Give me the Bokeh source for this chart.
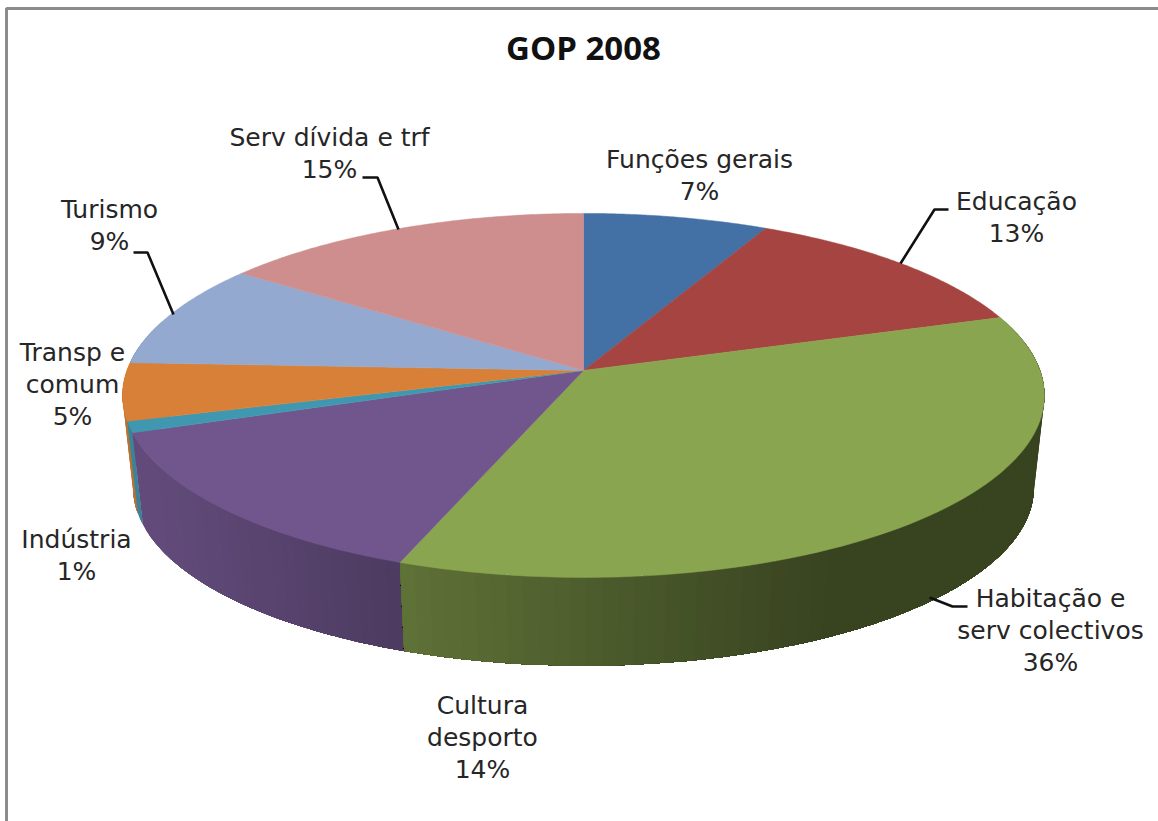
import numpy as np
from bokeh.plotting import figure
from bokeh.embed import file_html
from bokeh.resources import INLINE
from bokeh.models import Range1d
from bokeh.core.properties import value

title = "GOP 2008"
categories = ["Funções gerais", "Educação", "Habitação e serv colectivos", "Cultura desporto",
              "Indústria", "Transp e comum", "Turismo", "Serv dívida e trf"]
shares = [7.4, 12.6, 35.7, 13.9, 1.0, 5.1, 9.3, 15.0]
percent_labels = ["7%", "13%", "36%", "14%", "1%", "5%", "9%", "15%"]
top_colors = ["#4371a6", "#a54441", "#8aa550", "#70568c", "#4098b0", "#d98038", "#93a9cf", "#ce8e8e"]

# label layout: lines, centre x, first-line centre y
label_lines = [["Funções gerais", "7%"], ["Educação", "13%"], ["Habitação e", "serv colectivos", "36%"],
               ["Cultura", "desporto", "14%"], ["Indústria", "1%"], ["Transp e", "comum", "5%"],
               ["Turismo", "9%"], ["Serv dívida e trf", "15%"]]
label_x = [699, 1016, 1050, 482, 76, 72, 109, 329]
label_y = [159, 201, 598, 705, 539, 352, 209, 137]
leaders = [None,
           ([900, 934, 948], [263, 209, 209]),
           ([929, 952, 967], [597, 606, 606]),
           None, None, None,
           ([173, 147, 133], [314, 252, 252]),
           ([398, 377, 362], [229, 177, 177])]

W, H = 1158, 821
FONT = "DejaVu Sans"
p = figure(width=W, height=H, x_range=Range1d(0, W), y_range=Range1d(H, 0),
           toolbar_location=None, output_backend="svg", min_border=0,
           outline_line_color=None, background_fill_color="white", border_fill_color="white")
p.axis.visible = False
p.grid.visible = False

CX, K = 583.0, 0.137
TOP = dict(cy=370.0, a=456.6, b=178.6)
s = 0.977
BOT = dict(cy=463.0, a=456.6 * s, b=178.6 * s)


def project(theta, d):
    u, v = np.sin(theta), -np.cos(theta)
    w = 1 - K * v
    return CX + d["a"] * u / w, d["cy"] + d["b"] * v / w


def shade(col, x):
    f = np.interp(x, [150, 400, 640, 830], [0.88, 0.69, 0.53, 0.41])
    rgb = [int(col[i:i + 2], 16) for i in (1, 3, 5)]
    return "#%02x%02x%02x" % tuple(int(c * f) for c in rgb)


# border of the chart
p.line([6, 6, W], [H, 8, 8], line_color="#8c8c8c", line_width=3)

edges = np.concatenate([[0], np.cumsum(shares)]) / np.sum(shares) * 2 * np.pi

# side wall: back-to-front, each band overpainted by the next one
for i in [0, 1, 7, 6, 5, 4, 3, 2]:
    col = top_colors[i]
    n = max(2, int((edges[i + 1] - edges[i]) / 0.03))
    th = np.linspace(edges[i], edges[i + 1], n + 1)
    if i > 2:
        th = th[::-1]
    for k in range(n):
        if np.cos((th[k] + th[k + 1]) / 2) > 0.3:
            continue
        rest = np.linspace(th[k], th[-1], 2 * (n - k) + 1)
        xt, yt = project(rest, TOP)
        xb, yb = project(rest[::-1], BOT)
        xm = project((th[k] + th[k + 1]) / 2, TOP)[0]
        p.patch(np.r_[xt, xb], np.r_[yt, yb], fill_color=shade(col, xm), line_color=None)

# top face
for i, col in enumerate(top_colors):
    th = np.linspace(edges[i], edges[i + 1], 80)
    x, y = project(th, TOP)
    p.patch(np.r_[CX, x], np.r_[TOP["cy"], y], fill_color=col, line_color=col, line_width=0.5)

# leader lines
for item in leaders:
    if item:
        p.line(item[0], item[1], line_color="#111111", line_width=2.6)

# labels
STEP = 32
for lines, x, y in zip(label_lines, label_x, label_y):
    p.text([x] * len(lines), [y + STEP * j for j in range(len(lines))], text=lines,
           text_font=value(FONT), text_font_size="25px", text_color="#262626",
           text_align="center", text_baseline="middle")
p.text([583], [47], text=[title], text_font=value("Open Sans"), text_font_style="bold",
       text_font_size="33px", text_color="#111111", text_align="center", text_baseline="middle")

open("out.html", "w").write(file_html(p, INLINE))
